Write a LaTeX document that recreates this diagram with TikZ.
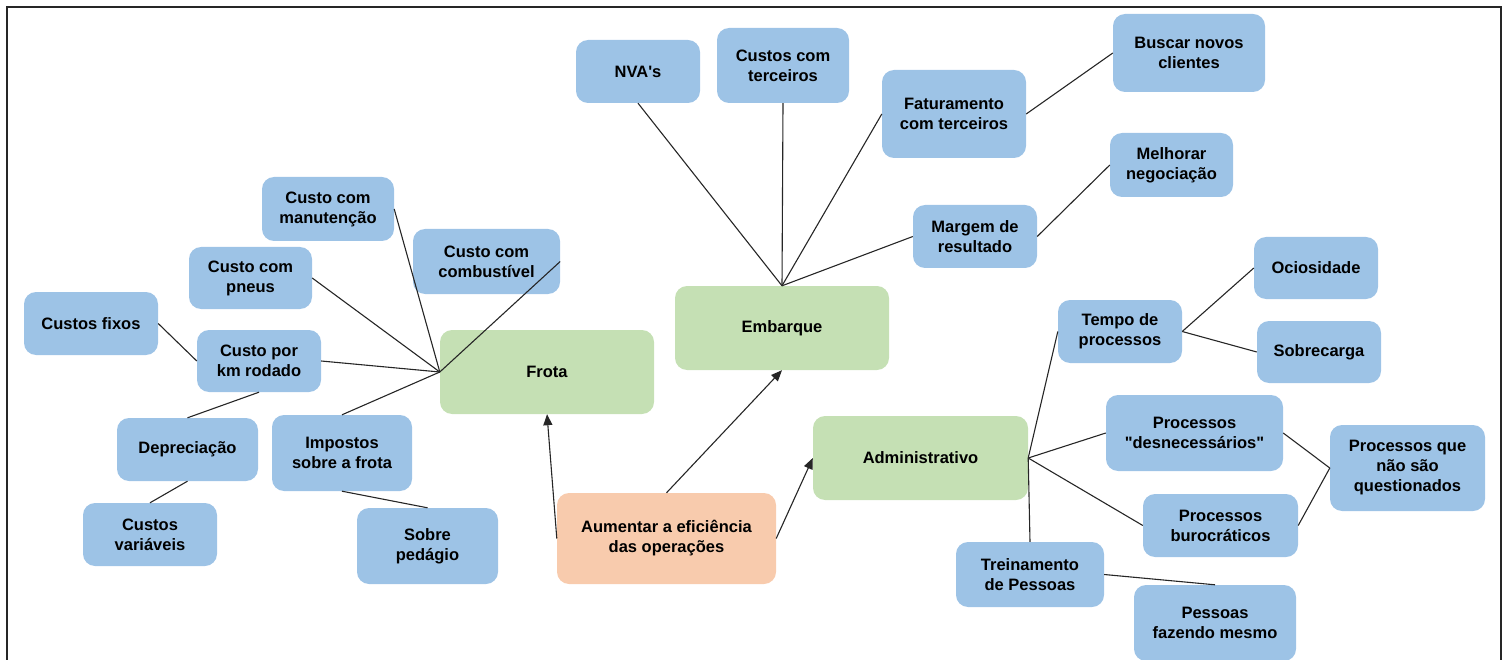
\documentclass[tikz,border=0pt]{standalone}
\usepackage{fontspec}
\setmainfont{Liberation Sans}[Ligatures=TeXOff]
\usetikzlibrary{arrows.meta}
\definecolor{boxblue}{HTML}{9DC3E6}
\definecolor{boxgreen}{HTML}{C5E0B4}
\definecolor{boxorange}{HTML}{F8CBAD}
\begin{document}
\begin{tikzpicture}[x=1pt,y=-1pt,
  every node/.style={font=\fontsize{16.5}{20}\selectfont\bfseries, align=center, inner sep=0pt,
                     rounded corners=12pt},
  leaf/.style={fill=boxblue},
  area/.style={fill=boxgreen},
  goal/.style={fill=boxorange},
  link/.style={draw=black!85, line width=1.1pt},
  push/.style={link, -{Triangle[length=11pt,width=9pt]}}]
\useasboundingbox (0,0) rectangle (1509,660);
% outer frame
\draw[line width=2pt, black!85] (7,680) -- (7,7) -- (1501,7) -- (1501,680);

% --- Frota branch ---
\node[leaf, minimum width=132pt, minimum height=64pt] (manut) at (328,209) {Custo com\\manutenção};
\node[leaf, minimum width=147pt, minimum height=65pt] (comb) at (486.5,261.5) {Custo com\\combustível};
\node[leaf, minimum width=123pt, minimum height=62pt] (pneus) at (250.5,278) {Custo com\\pneus};
\node[leaf, minimum width=134pt, minimum height=63pt] (fixos) at (91,323.5) {Custos fixos};
\node[leaf, minimum width=124pt, minimum height=62pt] (km) at (259,361) {Custo por\\km rodado};
\node[leaf, minimum width=141pt, minimum height=63pt] (depr) at (187.5,449.5) {Depreciação};
\node[leaf, minimum width=140pt, minimum height=76pt] (impostos) at (342,453) {Impostos\\sobre a frota};
\node[leaf, minimum width=134pt, minimum height=63pt] (variaveis) at (150,534.5) {Custos\\variáveis};
\node[leaf, minimum width=141pt, minimum height=76pt] (pedagio) at (427.5,546) {Sobre\\pedágio};
\node[area, minimum width=214pt, minimum height=84pt] (frota) at (547,372) {Frota};

% --- Embarque branch ---
\node[area, minimum width=214pt, minimum height=84pt] (emb) at (782,328) {Embarque};
\node[leaf, minimum width=124pt, minimum height=63pt] (nva) at (638,71.5) {NVA's};
\node[leaf, minimum width=132pt, minimum height=75pt] (terc) at (783,65.5) {Custos com\\terceiros};
\node[leaf, minimum width=144pt, minimum height=88pt] (fat) at (954,114) {Faturamento\\com terceiros};
\node[leaf, minimum width=152pt, minimum height=78pt] (buscar) at (1189,53) {Buscar novos\\clientes};
\node[leaf, minimum width=124pt, minimum height=63pt] (margem) at (975,236.5) {Margem de\\resultado};
\node[leaf, minimum width=123pt, minimum height=64pt] (melhorar) at (1171.5,165) {Melhorar\\negociação};

% --- Administrativo branch ---
\node[area, minimum width=215pt, minimum height=84pt] (adm) at (920.5,458) {Administrativo};
\node[leaf, minimum width=124pt, minimum height=63pt] (tempo) at (1120,331.5) {Tempo de\\processos};
\node[leaf, minimum width=124pt, minimum height=62pt] (ocio) at (1316,268) {Ociosidade};
\node[leaf, minimum width=124pt, minimum height=62pt] (sobre) at (1319,352) {Sobrecarga};
\node[leaf, minimum width=177pt, minimum height=76pt] (desn) at (1194.5,433) {Processos\\"desnecessários"};
\node[leaf, minimum width=155pt, minimum height=63pt] (buro) at (1220.5,525.5) {Processos\\burocráticos};
\node[leaf, minimum width=155pt, minimum height=86pt] (quest) at (1407.5,468) {Processos que\\não são\\questionados};
\node[leaf, minimum width=148pt, minimum height=65pt] (trein) at (1030,574.5) {Treinamento\\de Pessoas};
\node[leaf, minimum width=162pt, minimum height=76pt] (pessoas) at (1215,623) {Pessoas\\fazendo mesmo};

% --- Goal ---
\node[goal, minimum width=219pt, minimum height=91pt] (goal) at (666.5,538.5) {Aumentar a eficiência\\das operações};

% connectors around Frota
\draw[link] (manut.east) -- (frota.west);
\draw[link] (pneus.east) -- (frota.west);
\draw[link] (km.east) -- (frota.west);
\draw[link] (impostos.north) -- (frota.west);
\draw[link] (comb.east) -- (frota.west);
\draw[link] (fixos.east) -- (km.west);
\draw[link] (km.south) -- (depr.north);
\draw[link] (depr.south) -- (variaveis.north);
\draw[link] (impostos.south) -- (pedagio.north);

% connectors around Embarque
\draw[link] (nva.south) -- (emb.north);
\draw[link] (terc.south) -- (emb.north);
\draw[link] (fat.west) -- (emb.north);
\draw[link] (margem.west) -- (emb.north);
\draw[link] (fat.east) -- (buscar.west);
\draw[link] (margem.east) -- (melhorar.west);

% connectors around Administrativo
\draw[link] (adm.east) -- (tempo.west);
\draw[link] (adm.east) -- (desn.west);
\draw[link] (adm.east) -- (buro.west);
\draw[link] (adm.east) -- (trein.north);
\draw[link] (tempo.east) -- (ocio.west);
\draw[link] (tempo.east) -- (sobre.west);
\draw[link] (desn.east) -- (quest.west);
\draw[link] (buro.east) -- (quest.west);
\draw[link] (trein.east) -- (pessoas.north);

% arrows from the goal
\draw[push] (goal.west) -- (frota.south);
\draw[push] (goal.north) -- (emb.south);
\draw[push] (goal.east) -- (adm.west);
\end{tikzpicture}
\end{document}
